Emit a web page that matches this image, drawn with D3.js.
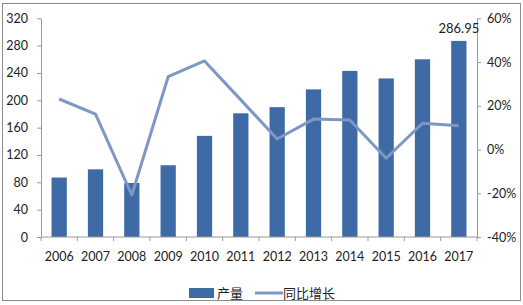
<!DOCTYPE html>
<html>
<head>
  <meta charset="utf-8">
  <style>
  body { margin: 0; background: #fff; }
  text { font-family: Lato, "Noto Sans CJK SC", sans-serif; fill: #222; }
  .axis path, .axis line { stroke: #999; }
  </style>
</head>
<body>
<script src="https://d3js.org/d3.v7.min.js"></script>
<script>
// data
var years = ["2006","2007","2008","2009","2010","2011","2012","2013","2014","2015","2016","2017"];
var output = [87, 99, 79, 105, 148, 181, 190, 216, 243, 232, 260, 286.95];
var growth = [23.1, 16.2, -20.8, 33.3, 40.5, 22.7, 4.8, 13.9, 13.5, -4.0, 12.0, 10.9];
var leftTicks = [0, 40, 80, 120, 160, 200, 240, 280, 320];
var rightTicks = [-40, -20, 0, 20, 40, 60];
var legendNames = ["产量", "同比增长"];

var width = 523, height = 305;
var barColor = "#3e6ba6", lineColor = "#7f97c4";

var svg = d3.select("body").append("svg")
    .attr("width", width)
    .attr("height", height);

svg.append("rect")
    .attr("x", 2.5).attr("y", 3.5)
    .attr("width", 518).attr("height", 297)
    .attr("fill", "#fff")
    .attr("stroke", "#8c8c8c");

var x = d3.scaleBand().domain(years).range([41, 477]).paddingInner(0.58).paddingOuter(0.29);
var yL = d3.scaleLinear().domain([0, 320]).range([237, 18.3]);
var yR = d3.scaleLinear().domain([-40, 60]).range([237, 18.3]);

// bars
svg.append("g").selectAll("rect")
    .data(output)
  .enter().append("rect")
    .attr("x", function(d, i) { return x(years[i]); })
    .attr("y", function(d) { return yL(d); })
    .attr("width", x.bandwidth())
    .attr("height", function(d) { return yL(0) - yL(d); })
    .attr("fill", barColor);

// axes
var left = svg.append("g").attr("class", "axis")
    .attr("transform", "translate(41,0)")
    .call(d3.axisLeft(yL).tickValues(leftTicks).tickSize(4).tickSizeOuter(0));
left.selectAll("text").attr("x", -13).style("font-size", "12.5px");

var right = svg.append("g").attr("class", "axis")
    .attr("transform", "translate(477,0)")
    .call(d3.axisRight(yR).tickValues(rightTicks).tickSize(4).tickSizeOuter(0)
      .tickFormat(function(d) { return d + "%"; }));
right.selectAll("text").attr("x", 10).style("font-size", "12.5px");

var bx = d3.scalePoint().domain(d3.range(years.length + 1)).range([41, 477]);
var bottom = svg.append("g").attr("class", "axis")
    .attr("transform", "translate(0,237)");
bottom.append("line").attr("x1", 41).attr("x2", 477).attr("stroke", "#999");
bottom.selectAll(".tk")
    .data(d3.range(years.length + 1))
  .enter().append("line")
    .attr("x1", function(d) { return bx(d); })
    .attr("x2", function(d) { return bx(d); })
    .attr("y1", 0).attr("y2", 4)
    .attr("stroke", "#999");
bottom.selectAll("text")
    .data(years)
  .enter().append("text")
    .attr("x", function(d) { return x(d) + x.bandwidth() / 2; })
    .attr("y", 24)
    .attr("text-anchor", "middle")
    .style("font-size", "12.5px")
    .text(function(d) { return d; });

// growth line
var line = d3.line()
    .x(function(d, i) { return x(years[i]) + x.bandwidth() / 2; })
    .y(function(d) { return yR(d); });

svg.append("path")
    .datum(growth)
    .attr("d", line)
    .attr("fill", "none")
    .attr("stroke", lineColor)
    .attr("stroke-width", 3)
    .attr("stroke-linejoin", "round");

// value label on last bar
var last = years.length - 1;
svg.append("text")
    .attr("x", x(years[last]) + x.bandwidth() / 2)
    .attr("y", yL(output[last]) - 8)
    .attr("text-anchor", "middle")
    .style("font-size", "13px")
    .text(output[last].toFixed(2));

// legend
var lg = svg.append("g");
lg.append("rect").attr("x", 189).attr("y", 288).attr("width", 25).attr("height", 10).attr("fill", barColor);
lg.append("text").attr("x", 217).attr("y", 298).style("font-size", "13px").text(legendNames[0]);
lg.append("line").attr("x1", 255).attr("x2", 283).attr("y1", 293).attr("y2", 293)
    .attr("stroke", lineColor).attr("stroke-width", 3);
lg.append("text").attr("x", 283).attr("y", 298).style("font-size", "13px").text(legendNames[1]);
</script>
</body>
</html>
